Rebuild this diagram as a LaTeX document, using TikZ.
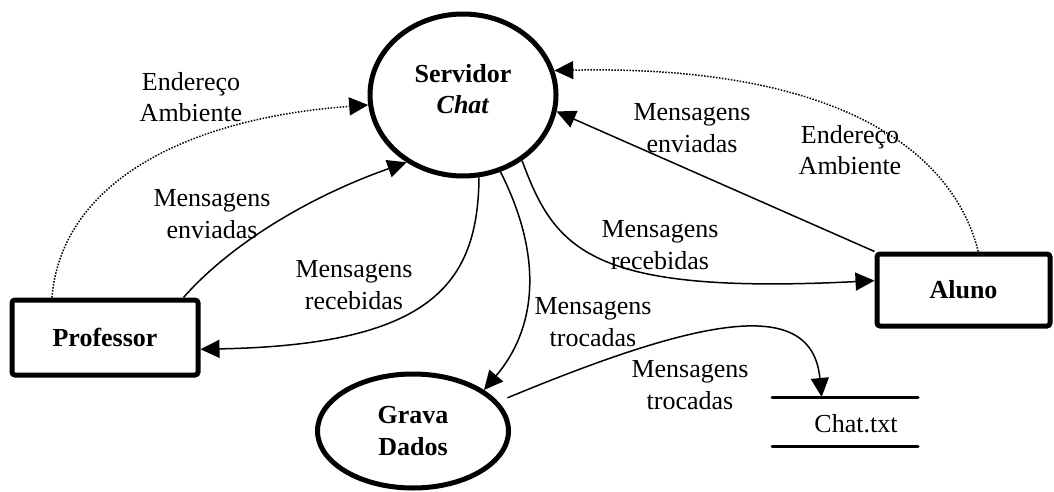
\documentclass[tikz,border=0pt]{standalone}
\usepackage{fontspec}
\setmainfont{Liberation Serif}
\usetikzlibrary{arrows.meta,shapes.geometric,calc}
\begin{document}
\begin{tikzpicture}[x=0.5pt,y=-0.5pt,
  txt/.style={font=\fontsize{13}{15.8}\selectfont, align=center, inner sep=0pt},
  proc/.style={draw, ellipse, line width=2.5pt, inner sep=0pt, align=center,
    font=\fontsize{13}{15.8}\selectfont\bfseries},
  ent/.style={draw, rectangle, rounded corners=1.5pt, line width=2.5pt, inner sep=0pt,
    font=\fontsize{13}{15.8}\selectfont\bfseries},
  flow/.style={line width=0.75pt, -{Triangle[length=9.5pt,width=9pt]}},
  addr/.style={flow, dash pattern=on 0.75pt off 0.75pt}
]
\useasboundingbox (0,0) rectangle (1054,492);

% processes and external entities
\node[proc, minimum width=93pt, minimum height=81pt] (serv) at (463,95) {};
\node[txt, font=\fontsize{13}{15.8}\selectfont\bfseries] (servname) at (463,89) {Servidor\\\textit{Chat}};
\node[proc, minimum width=95.5pt, minimum height=57pt] (grava) at (413,431) {Grava\\Dados};
\node[ent, minimum width=93pt, minimum height=37.5pt] (prof) at (105,337.5) {Professor};
\node[ent, minimum width=86.5pt, minimum height=36pt] (alu) at (963.5,290) {Aluno};

% data store
\node[minimum width=73pt, minimum height=24.5pt, inner sep=0pt, outer sep=0pt] (store) at (845,421.5) {};
\draw[line width=1.5pt, line cap=round] (store.north west) -- (store.north east)
  (store.south west) -- (store.south east);
\node[txt] (storename) at (856,424) {Chat.txt};

% data flows
\draw[addr] (prof.143) .. controls (62,180) and (190,118) .. (serv.186);
\draw[flow] (prof.27) .. controls (225,250) and (300,200) .. (serv.230);
\draw[flow] (serv.281) .. controls (478,285) and (430,345) .. (prof.-7);
\draw[flow] (alu.north west) -- (serv.350);
\draw[addr] (alu.69) .. controls (950,140) and (820,65) .. (serv.15);
\draw[flow] (serv.312) .. controls (555,250) and (590,295) .. (alu.174);
\draw[flow] (serv.296) .. controls (545,260) and (535,330) .. (grava.30);
\draw[flow, shorten <=5pt] (grava.19) .. controls (700,318) and (812,295) .. ($(store.north west)!0.34!(store.north east)$);

% flow labels
\node[txt] (l1) at (191,97) {Endereço\\Ambiente};
\node[txt] (l2) at (212,214) {Mensagens\\enviadas};
\node[txt] (l3) at (354,285) {Mensagens\\recebidas};
\node[txt] (l4) at (692,128) {Mensagens\\enviadas};
\node[txt] (l5) at (850,150) {Endereço\\Ambiente};
\node[txt] (l6) at (660,245) {Mensagens\\recebidas};
\node[txt] (l7) at (593,322) {Mensagens\\trocadas};
\node[txt] (l8) at (690,385) {Mensagens\\trocadas};
\end{tikzpicture}
\end{document}
